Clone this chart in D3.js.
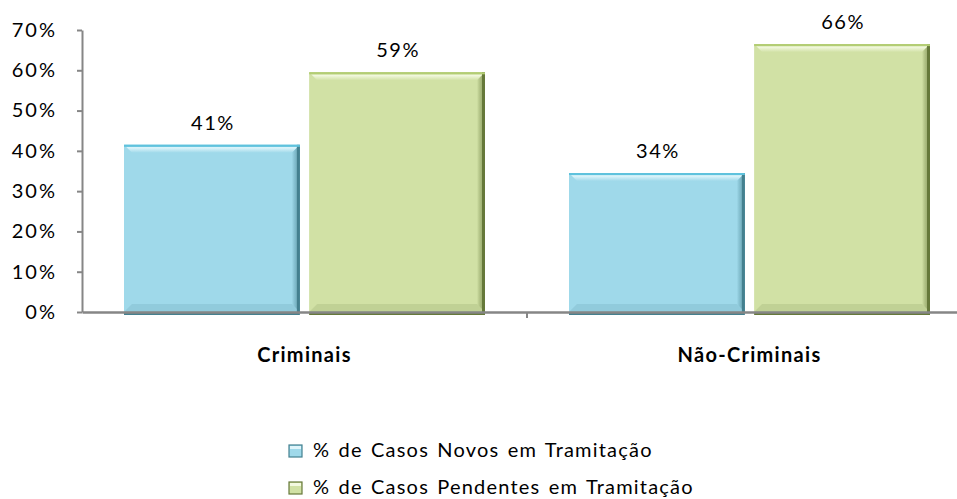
<!DOCTYPE html>
<html>
<head>
<meta charset="utf-8">
<script src="https://cdn.jsdelivr.net/npm/d3@7"></script>
<style>
  body { margin: 0; background: #fff; }
  svg { display: block; font-family: Lato, "Open Sans", sans-serif; }
</style>
</head>
<body>
<script>
// dados
var categorias = ["Criminais", "Não-Criminais"];
var series = ["% de Casos Novos em Tramitação", "% de Casos Pendentes em Tramitação"];
var novos = [41, 34];
var pendentes = [59, 66];
var yTicks = [0, 10, 20, 30, 40, 50, 60, 70];

var width = 957, height = 499;

// cores de cada série (principal, realce, borda escura)
var cores = [
  { main: "#9fd9ea", light: "#dff5fb", top: "#5fc2dd", dark: "#44808f" },
  { main: "#d1e1a5", light: "#f3f9e0", top: "#b3cd74", dark: "#66793a" }
];

var svg = d3.select("body").append("svg")
  .attr("width", width)
  .attr("height", height);

var y = d3.scaleLinear().domain([0, 70]).range([312, 30]);
var x0 = d3.scaleBand().domain(categorias).range([82, 972]);
var x1 = d3.scaleBand().domain(d3.range(series.length))
  .range([42, x0.bandwidth() - 42]).paddingInner(0.05);

var dados = [];
categorias.forEach(function(c, i) {
  dados.push({ cat: c, s: 0, v: novos[i] });
  dados.push({ cat: c, s: 1, v: pendentes[i] });
});

// gradientes
var defs = svg.append("defs");
cores.forEach(function(c, i) {
  var g = defs.append("linearGradient").attr("id", "top" + i)
    .attr("x1", 0).attr("y1", 0).attr("x2", 0).attr("y2", 1);
  g.append("stop").attr("offset", "0%").attr("stop-color", c.top);
  g.append("stop").attr("offset", "35%").attr("stop-color", c.light);
  g.append("stop").attr("offset", "100%").attr("stop-color", c.main);
  var r = defs.append("linearGradient").attr("id", "right" + i)
    .attr("x1", 0).attr("y1", 0).attr("x2", 1).attr("y2", 0);
  r.append("stop").attr("offset", "0%").attr("stop-color", c.main);
  r.append("stop").attr("offset", "100%").attr("stop-color", c.dark).attr("stop-opacity", 0.55);
});

// barras
var bevel = 8;
var barras = svg.append("g").selectAll("g")
  .data(dados)
  .enter().append("g")
  .attr("transform", function(d) { return "translate(" + (x0(d.cat) + x1(d.s)) + ",0)"; });

barras.each(function(d) {
  var g = d3.select(this);
  var w = x1.bandwidth(), top = y(d.v) - 2, bot = y(0), c = cores[d.s];
  g.append("rect").attr("x", 0).attr("y", top).attr("width", w).attr("height", bot - top)
    .attr("fill", c.main);
  // realce em cima
  g.append("path")
    .attr("d", "M0," + top + "H" + w + "L" + (w - bevel) + "," + (top + bevel) + "H" + bevel + "Z")
    .attr("fill", "url(#top" + d.s + ")");
  // lado direito mais escuro
  g.append("path")
    .attr("d", "M" + w + "," + top + "V" + bot + "L" + (w - bevel) + "," + (bot - bevel) + "V" + (top + bevel) + "Z")
    .attr("fill", "url(#right" + d.s + ")");
  // lado de baixo
  g.append("path")
    .attr("d", "M0," + bot + "H" + w + "L" + (w - bevel) + "," + (bot - bevel) + "H" + bevel + "Z")
    .attr("fill", c.dark).attr("fill-opacity", 0.15);
  g.append("rect").attr("x", w - 3).attr("y", top).attr("width", 3).attr("height", bot - top)
    .attr("fill", c.dark);
  g.append("rect").attr("x", 0).attr("y", bot).attr("width", w).attr("height", 3)
    .attr("fill", c.dark);
  g.append("rect").attr("x", 0).attr("y", top).attr("width", w).attr("height", 2)
    .attr("fill", c.top);
});

// rótulos dos valores
svg.append("g").selectAll("text")
  .data(dados)
  .enter().append("text")
  .attr("x", function(d) { return x0(d.cat) + x1(d.s) + x1.bandwidth() / 2; })
  .attr("y", function(d) { return y(d.v) - 17; })
  .attr("dx", 1)
  .attr("text-anchor", "middle")
  .style("font-size", "20px")
  .style("letter-spacing", "1.5px")
  .style("fill", "#000")
  .text(function(d) { return d.v + "%"; });

// eixo y
var yAxis = svg.append("g")
  .attr("transform", "translate(82,0)")
  .call(d3.axisLeft(y).tickValues(yTicks).tickSize(5).tickSizeOuter(0).tickPadding(22)
    .tickFormat(function(d) { return d + "%"; }));
yAxis.select(".domain").attr("stroke", "#868686").attr("stroke-width", 2);
yAxis.selectAll(".tick line").attr("stroke", "#868686").attr("stroke-width", 2);
yAxis.selectAll(".tick text").style("font-size", "20px").style("letter-spacing", "2px")
  .style("font-family", "Lato, sans-serif").attr("fill", "#000").attr("dx", 2);

// eixo x
var xAxis = svg.append("g")
  .attr("transform", "translate(0," + y(0) + ")")
  .call(d3.axisBottom(x0).tickSize(0).tickSizeOuter(0).tickPadding(36));
xAxis.select(".domain").attr("stroke", "#868686").attr("stroke-width", 2.5);
xAxis.selectAll(".tick text").style("font-size", "20px").style("font-weight", "bold")
  .style("letter-spacing", "1.3px")
  .style("font-family", "Lato, sans-serif").attr("fill", "#000");
// marcas entre categorias
svg.append("g").selectAll("line")
  .data(categorias.slice(1))
  .enter().append("line")
  .attr("x1", function(d) { return x0(d); })
  .attr("x2", function(d) { return x0(d); })
  .attr("y1", y(0))
  .attr("y2", y(0) + 6)
  .attr("stroke", "#868686").attr("stroke-width", 2);

// legenda
var leg = svg.append("g").selectAll("g")
  .data(series)
  .enter().append("g")
  .attr("transform", function(d, i) { return "translate(289," + (451 + i * 37) + ")"; });
leg.append("rect")
  .attr("x", 0).attr("y", -6).attr("width", 13).attr("height", 12)
  .attr("fill", function(d, i) { return cores[i].main; })
  .attr("stroke", function(d, i) { return cores[i].dark; })
  .attr("stroke-width", 1.2);
leg.append("rect")
  .attr("x", 1).attr("y", -5).attr("width", 11).attr("height", 3)
  .attr("fill", function(d, i) { return cores[i].light; });
leg.append("text")
  .attr("x", 24).attr("y", 6)
  .style("font-size", "20px")
  .style("letter-spacing", "1.2px")
  .style("word-spacing", "2px")
  .text(function(d) { return d; });
</script>
</body>
</html>
